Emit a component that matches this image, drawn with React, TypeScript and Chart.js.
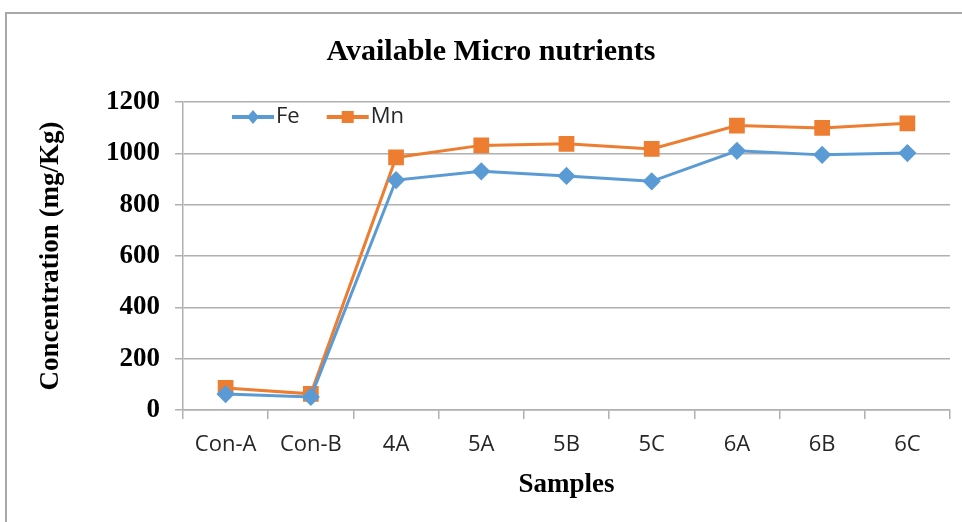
import React, { useEffect, useRef } from "react";
import { Chart, registerables } from "chart.js";

Chart.register(...registerables);

const categories = ["Con-A", "Con-B", "4A", "5A", "5B", "5C", "6A", "6B", "6C"];
const feValues = [62, 51, 896, 930, 912, 891, 1010, 994, 1001];
const mnValues = [86, 63, 984, 1031, 1037, 1017, 1108, 1099, 1117];
const yTicks = [0, 200, 400, 600, 800, 1000, 1200];

const FE_COLOR = "#5b9bd5";
const MN_COLOR = "#ed7d31";
const GRID = "#b0b0b0";

const legendPlugin = {
  id: "insideLegend",
  afterDraw(chart: any) {
    const { ctx, chartArea } = chart;
    let x = chartArea.left + 49;
    const y = chartArea.top + 15;
    ctx.save();
    ctx.font = "22px 'Open Sans'";
    ctx.textBaseline = "middle";
    chart.data.datasets.forEach((ds: any) => {
      const lineLen = 42;
      ctx.strokeStyle = ds.borderColor;
      ctx.lineWidth = 4;
      ctx.beginPath();
      ctx.moveTo(x, y);
      ctx.lineTo(x + lineLen, y);
      ctx.stroke();
      ctx.fillStyle = ds.pointBackgroundColor;
      const cx = x + lineLen / 2;
      if (ds.pointStyle === "rect") {
        const s = 6;
        ctx.fillRect(cx - s, y - s, 2 * s, 2 * s);
      } else {
        const r = 7;
        ctx.beginPath();
        ctx.moveTo(cx, y - r);
        ctx.lineTo(cx + r * 0.85, y);
        ctx.lineTo(cx, y + r);
        ctx.lineTo(cx - r * 0.85, y);
        ctx.closePath();
        ctx.fill();
      }
      ctx.fillStyle = "#262626";
      ctx.textAlign = "left";
      ctx.fillText(ds.label, x + lineLen + 2, y);
      x += lineLen + 2 + ctx.measureText(ds.label).width + 27;
    });
    ctx.restore();
  },
};

export default function App() {
  const ref = useRef<HTMLCanvasElement>(null);
  useEffect(() => {
    if (!ref.current) return;
    const chart = new Chart(ref.current, {
      type: "line",
      data: {
        labels: categories,
        datasets: [
          {
            label: "Fe",
            data: feValues,
            borderColor: FE_COLOR,
            backgroundColor: FE_COLOR,
            pointBackgroundColor: FE_COLOR,
            pointBorderColor: FE_COLOR,
            pointStyle: "rectRot",
            pointRadius: 7,
            borderWidth: 3,
            tension: 0,
          },
          {
            label: "Mn",
            data: mnValues,
            borderColor: MN_COLOR,
            backgroundColor: MN_COLOR,
            pointBackgroundColor: MN_COLOR,
            pointBorderColor: MN_COLOR,
            pointStyle: "rect",
            pointRadius: 9,
            borderWidth: 3,
            tension: 0,
          },
        ],
      },
      options: {
        animation: false,
        responsive: false,
        layout: { padding: { left: 32, right: 12, top: 0, bottom: 10 } },
        plugins: {
          legend: { display: false },
          tooltip: { enabled: false },
          title: {
            display: true,
            text: "Available Micro nutrients",
            color: "#000",
            font: { family: "'Liberation Serif'", size: 30, weight: "bold", lineHeight: 1.2 },
            padding: { top: 34, bottom: 32 },
          },
        },
        scales: {
          x: {
            type: "category",
            offset: true,
            grid: {
              display: true,
              drawOnChartArea: false,
              drawTicks: true,
              tickLength: 9,
              offset: true,
              color: GRID,
              lineWidth: 1.5,
            },
            border: { display: true, color: GRID, width: 1.5 },
            ticks: {
              color: "#262626",
              font: { family: "'Open Sans'", size: 22 },
              padding: 13,
              maxRotation: 0,
              autoSkip: false,
            },
            title: {
              display: true,
              text: "Samples",
              color: "#000",
              font: { family: "'Liberation Serif'", size: 27, weight: "bold", lineHeight: 1.2 },
              padding: { top: 11, bottom: 11 },
            },
            afterFit(scale: any) {
              scale.height = 102;
            },
          },
          y: {
            min: 0,
            max: 1200,
            afterBuildTicks(scale: any) {
              scale.ticks = yTicks.map((v) => ({ value: v }));
            },
            grid: {
              display: true,
              drawOnChartArea: true,
              drawTicks: true,
              tickLength: 8,
              color: GRID,
              lineWidth: 1.5,
            },
            border: { display: true, color: GRID, width: 1.5 },
            ticks: {
              color: "#000",
              font: { family: "'Liberation Serif'", size: 27, weight: "bold" },
              padding: 15,
              callback: (v: any) => String(v),
            },
            title: {
              display: true,
              text: "Concentration (mg/Kg)",
              color: "#000",
              font: { family: "'Liberation Serif'", size: 27, weight: "bold", lineHeight: 1.2 },
              padding: { top: 3, bottom: 3 },
            },
            afterFit(scale: any) {
              scale.width = 151;
            },
          },
        },
      },
      plugins: [legendPlugin],
    });
    return () => chart.destroy();
  }, []);

  return (
    <div
      style={{
        position: "fixed",
        left: 0,
        top: 0,
        width: 962,
        height: 522,
        overflow: "hidden",
        background: "#fff",
      }}
    >
      <div
        style={{
          position: "absolute",
          left: 5,
          top: 12,
          width: 1100,
          height: 700,
          border: "2px solid #a8a8a8",
          boxSizing: "border-box",
        }}
      />
      <canvas
        ref={ref}
        width={962}
        height={522}
        style={{ position: "absolute", left: 0, top: 0, width: 962, height: 522 }}
      />
    </div>
  );
}
